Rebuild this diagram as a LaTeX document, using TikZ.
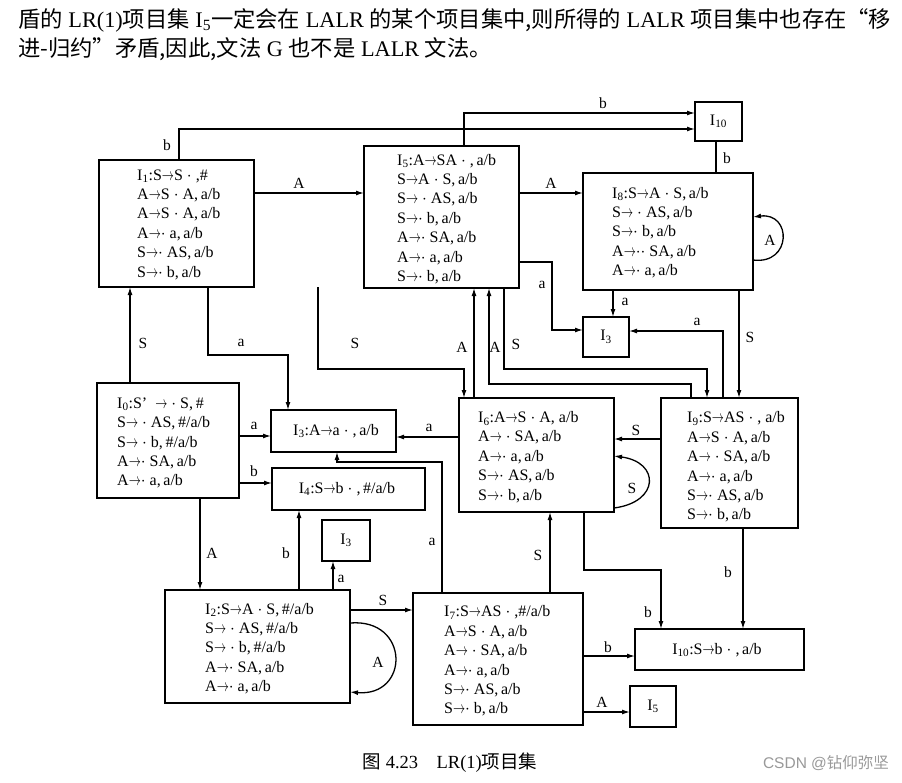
\documentclass[tikz,border=0pt]{standalone}
\usepackage{fontspec}
\usepackage{graphicx}
\setmainfont{Liberation Serif}
\newfontfamily\cjk{Noto Sans CJK SC}
\newfontfamily\wmfont{Liberation Sans}
\usetikzlibrary{arrows.meta}
\newcommand{\myra}{\scalebox{0.7}[1]{$\rightarrow$}}
\newcommand{\mydot}{\ensuremath{\cdot}}
\begin{document}
\begin{tikzpicture}[x=1pt,y=-1pt,
  box/.style={draw,line width=1.6pt,inner sep=0pt,outer sep=0pt},
  txt/.style={font=\fontsize{16}{19.4}\selectfont,align=left,inner sep=0pt,anchor=west},
  lbl/.style={font=\fontsize{15.5}{18}\selectfont,inner sep=0pt},
  ln/.style={line width=1.3pt},
  arr/.style={line width=1.3pt,-{Latex[length=8pt,width=5pt]}}]
\fill[white] (0,0) rectangle (902,782);
\useasboundingbox (0,0) rectangle (902,782);

% top text
\node[anchor=west,inner sep=0pt,font=\fontsize{22.3}{26}\selectfont] (top1) at (18,20)
 {{\cjk 盾的} LR(1){\cjk 项目集} I\textsubscript{5}{\cjk 一定会在} LALR {\cjk 的某个项目集中,则所得的} LALR {\cjk 项目集中也存在“移}};
\node[anchor=west,inner sep=0pt,font=\fontsize{22.3}{26}\selectfont] (top2) at (18,49)
 {{\cjk 进-归约”矛盾,因此,文法} G {\cjk 也不是} LALR {\cjk 文法。}};

% boxes
\node[box,minimum width=155pt,minimum height=127pt] (I1) at (176.5,223.5) {};
\node[box,minimum width=155pt,minimum height=142pt] (I5) at (441.5,217) {};
\node[box,minimum width=170pt,minimum height=117pt] (I8) at (668,231.5) {};
\node[box,minimum width=47pt,minimum height=39pt] (I10t) at (718.5,121.5) {};
\node[box,minimum width=142pt,minimum height=115pt] (I0) at (168,440.5) {};
\node[box,minimum width=125pt,minimum height=42pt] (I3) at (333.5,431) {};
\node[box,minimum width=153pt,minimum height=42pt] (I4) at (348.5,489) {};
\node[box,minimum width=155pt,minimum height=114pt] (I6) at (536.5,455) {};
\node[box,minimum width=137pt,minimum height=130pt] (I9) at (729.5,463) {};
\node[box,minimum width=46pt,minimum height=40pt] (I3r) at (606,337) {};
\node[box,minimum width=48pt,minimum height=41pt] (I3b) at (346,540.5) {};
\node[box,minimum width=185pt,minimum height=113pt] (I2) at (257.5,646.5) {};
\node[box,minimum width=170pt,minimum height=132pt] (I7) at (498,659) {};
\node[box,minimum width=169pt,minimum height=41pt] (I10b) at (719.5,649.5) {};
\node[box,minimum width=46pt,minimum height=41pt] (I5s) at (653,706.5) {};

% box texts
\node[txt] (I1t) at (137,224.5) {I\textsubscript{1}:S\myra S\ \mydot\ ,\#\\ A\myra S\ \mydot\ A,\,a/b\\ A\myra S\ \mydot\ A,\,a/b\\ A\myra\mydot\ a,\,a/b\\ S\myra\mydot\ AS,\,a/b\\ S\myra\mydot\ b,\,a/b};
\node[txt] (I5t) at (397,219) {I\textsubscript{5}:A\myra SA\ \mydot\ ,\,a/b\\ S\myra A\ \mydot\ S,\,a/b\\ S\myra\ \mydot\ AS,\,a/b\\ S\myra\mydot\ b,\,a/b\\ A\myra\mydot\ SA,\,a/b\\ A\myra\mydot\ a,\,a/b\\ S\myra\mydot\ b,\,a/b};
\node[txt] (I8t) at (612,232.5) {I\textsubscript{8}:S\myra A\ \mydot\ S,\,a/b\\ S\myra\ \mydot\ AS,\,a/b\\ S\myra\mydot\ b,\,a/b\\ A\myra\mydot\mydot\ SA,\,a/b\\ A\myra\mydot\ a,\,a/b};
\node[txt] (I0t) at (117,443) {I\textsubscript{0}:S’\ \ \myra\ \mydot\ S,\,\#\\ S\myra\ \mydot\ AS,\,\#/a/b\\ S\myra\ \mydot\ b,\,\#/a/b\\ A\myra\mydot\ SA,\,a/b\\ A\myra\mydot\ a,\,a/b};
\node[txt,anchor=center] (I3t) at (336,431) {I\textsubscript{3}:A\myra a\ \mydot\ ,\,a/b};
\node[txt,anchor=center] (I4t) at (347,489) {I\textsubscript{4}:S\myra b\ \mydot\ ,\,\#/a/b};
\node[txt] (I6t) at (478,457) {I\textsubscript{6}:A\myra S\ \mydot\ A,\ a/b\\ A\myra\ \mydot\ SA,\,a/b\\ A\myra\mydot\ a,\,a/b\\ S\myra\mydot\ AS,\,a/b\\ S\myra\mydot\ b,\,a/b};
\node[txt] (I9t) at (687,467) {I\textsubscript{9}:S\myra AS\ \mydot\ ,\ a/b\\ A\myra S\ \mydot\ A,\,a/b\\ A\myra\ \mydot\ SA,\,a/b\\ A\myra\mydot\ a,\,a/b\\ S\myra\mydot\ AS,\,a/b\\ S\myra\mydot\ b,\,a/b};
\node[txt] (I2t) at (205,648.5) {I\textsubscript{2}:S\myra A\ \mydot\ S,\,\#/a/b\\ S\myra\ \mydot\ AS,\,\#/a/b\\ S\myra\ \mydot\ b,\,\#/a/b\\ A\myra\mydot\ SA,\,a/b\\ A\myra\mydot\ a,\,a/b};
\node[txt] (I7t) at (444,661) {I\textsubscript{7}:S\myra AS\ \mydot\ ,\#/a/b\\ A\myra S\ \mydot\ A,\,a/b\\ A\myra\ \mydot\ SA,\,a/b\\ A\myra\mydot\ a,\,a/b\\ S\myra\mydot\ AS,\,a/b\\ S\myra\mydot\ b,\,a/b};
\node[txt,anchor=center] (I10bt) at (717,650) {I\textsubscript{10}:S\myra b\ \mydot\ ,\,a/b};
\node[txt,anchor=center] (I10tt) at (718.5,121.5) {I\textsubscript{10}};
\node[txt,anchor=center] (I3rt) at (606,337) {I\textsubscript{3}};
\node[txt,anchor=center] (I3bt) at (346,540.5) {I\textsubscript{3}};
\node[txt,anchor=center] (I5st) at (653,706.5) {I\textsubscript{5}};

% helper coordinates
\foreach \v in {130,179,200,208,288,299,318,333,337,442,464,474,489,504,550,552,584,613,661,691,707,716,723,739,743}
  {\coordinate (X\v) at (\v,0);}
\foreach \v in {113,129,193,217,260,262,330,331,355,369,384,436,437,439,456,462,483,508,570,610,623,656,692,712}
  {\coordinate (Y\v) at (0,\v);}

% connectors
\draw[arr] (I0.north -| X130) -- (I1.south -| X130);
\draw[arr] (I1.east |- Y193) -- (I5.west |- Y193);
\draw[arr] (I1.north -| X179) |- (I10t.west |- Y129);
\draw[arr] (I5.north -| X464) |- (I10t.west |- Y113);
\draw[arr] (I5.east |- Y193) -- (I8.west |- Y193);
\draw[ln] (I10t.south -| X716) -- (I8.north -| X716);
\draw[arr] (I8.east |- Y260) .. controls (792,265) and (792,212) .. (I8.east |- Y217);
\draw[arr] (I8.south -| X613) -- (I3r.north -| X613);
\draw[arr] (I5.east |- Y262) -| (X552 |- Y330) -- (I3r.west |- Y330);
\draw[arr] (I9.north -| X723) |- (I3r.east |- Y331);
\draw[arr] (I8.south -| X739) -- (I9.north -| X739);
\draw[arr] (I1.south -| X208) |- (X288 |- Y355) -- (I3.north -| X288);
\draw[arr] (I1.south -| X318) |- (X464 |- Y369) -- (I6.north -| X464);
\draw[arr] (I6.north -| X474) -- (I5.south -| X474);
\draw[arr] (I9.north -| X691) |- (X489 |- Y384) -- (I5.south -| X489);
\draw[arr] (I5.south -| X504) |- (X707 |- Y369) -- (I9.north -| X707);
\draw[arr] (I9.west |- Y439) -- (I6.east |- Y439);
\draw[arr] (I6.east |- Y508) .. controls (660,502) and (660,462) .. (I6.east |- Y456);
\draw[arr] (I6.west |- Y437) -- (I3.east |- Y437);
\draw[arr] (I0.east |- Y436) -- (I3.west |- Y436);
\draw[arr] (I0.east |- Y483) -- (I4.west |- Y483);
\draw[arr] (I7.north -| X442) |- (X337 |- Y462) -- (I3.south -| X337);
\draw[arr] (I7.north -| X550) -- (I6.south -| X550);
\draw[arr] (I6.south -| X584) |- (X661 |- Y570) -- (I10b.north -| X661);
\draw[arr] (I9.south -| X743) -- (I10b.north -| X743);
\draw[arr] (I7.east |- Y656) -- (I10b.west |- Y656);
\draw[arr] (I7.east |- Y712) -- (I5s.west |- Y712);
\draw[arr] (I2.east |- Y610) -- (I7.west |- Y610);
\draw[arr] (I2.east |- Y623) .. controls (410,618) and (410,697) .. (I2.east |- Y692);
\draw[arr] (I2.north -| X299) -- (I4.south -| X299);
\draw[arr] (I2.north -| X333) -- (I3b.south -| X333);
\draw[arr] (I0.south -| X200) -- (I2.north -| X200);

% labels
\node[lbl] (l1) at (143,343) {S};
\node[lbl] (l2) at (299,183) {A};
\node[lbl] (l3) at (167,145) {b};
\node[lbl] (l4) at (603,103) {b};
\node[lbl] (l5) at (551,183) {A};
\node[lbl] (l6) at (727,158) {b};
\node[lbl] (l7) at (770,240) {A};
\node[lbl] (l8) at (625,302) {a};
\node[lbl] (l9) at (542,285) {a};
\node[lbl] (l10) at (697,322) {a};
\node[lbl] (l11) at (750,337) {S};
\node[lbl] (l12) at (241,343) {a};
\node[lbl] (l13) at (355,343) {S};
\node[lbl] (l14) at (462,347) {A};
\node[lbl] (l15) at (495,347) {A};
\node[lbl] (l16) at (516,344) {S};
\node[lbl] (l17) at (636,430) {S};
\node[lbl] (l18) at (632,488) {S};
\node[lbl] (l19) at (429,428) {a};
\node[lbl] (l20) at (254,426) {a};
\node[lbl] (l21) at (254,471) {b};
\node[lbl] (l22) at (432,542) {a};
\node[lbl] (l23) at (538,555) {S};
\node[lbl] (l24) at (648,612) {b};
\node[lbl] (l25) at (728,572) {b};
\node[lbl] (l26) at (608,647) {b};
\node[lbl] (l27) at (602,702) {A};
\node[lbl] (l28) at (383,600) {S};
\node[lbl] (l29) at (378,662) {A};
\node[lbl] (l30) at (286,553) {b};
\node[lbl] (l31) at (341,579) {a};
\node[lbl] (l32) at (212,553) {A};

% caption and watermark
\node[inner sep=0pt,font=\fontsize{18.5}{21}\selectfont] (cap) at (450,763) {{\cjk 图} 4.23\quad LR(1){\cjk 项目集}};
\node[inner sep=0pt,text=black!40,font=\fontsize{15.5}{18}\selectfont] (wm) at (826,763) {{\wmfont CSDN @}{\cjk 钻仰弥坚}};
\end{tikzpicture}
\end{document}
